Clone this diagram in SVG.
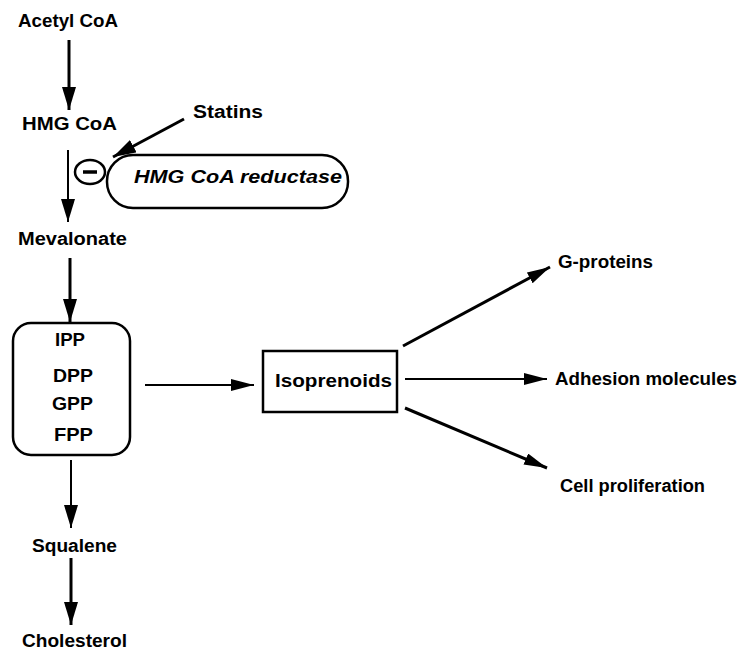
<svg xmlns="http://www.w3.org/2000/svg" width="739" height="653" viewBox="0 0 739 653">
<defs>
<style>
text{font-family:"Liberation Sans",Arial,sans-serif;font-weight:bold;font-size:18px;fill:#000}
.ln{stroke:#000;fill:none}
.thick{stroke-width:3}
.thin{stroke-width:2}
.box{fill:#fff;stroke:#000;stroke-width:2.5}
</style>
<marker id="ah" markerUnits="userSpaceOnUse" markerWidth="24" markerHeight="16" refX="23" refY="7" orient="auto">
<path d="M0,0 L23,7 L0,14 z" fill="#000"/>
</marker>
<marker id="ah2" markerUnits="userSpaceOnUse" markerWidth="24" markerHeight="14" refX="23" refY="6" orient="auto">
<path d="M0,0 L23,6 L0,12 z" fill="#000"/>
</marker>
</defs>
<g id="connectors">
<line class="ln thick" x1="69" y1="40" x2="69" y2="110" marker-end="url(#ah)"/>
<line class="ln thick" x1="184" y1="119" x2="113" y2="157" marker-end="url(#ah)"/>
<line class="ln thin" x1="68" y1="150" x2="68" y2="222" marker-end="url(#ah)"/>
<line class="ln thick" x1="70" y1="258" x2="70" y2="322" marker-end="url(#ah)"/>
<line class="ln thin" x1="145" y1="385" x2="254" y2="385" marker-end="url(#ah2)"/>
<line class="ln thick" x1="403" y1="346" x2="550" y2="267" marker-end="url(#ah2)"/>
<line class="ln thin" x1="405" y1="379" x2="547" y2="379" marker-end="url(#ah2)"/>
<line class="ln thick" x1="405" y1="408" x2="547" y2="468" marker-end="url(#ah2)"/>
<line class="ln thin" x1="71" y1="460" x2="71" y2="528" marker-end="url(#ah)"/>
<line class="ln thick" x1="71" y1="558" x2="71" y2="625" marker-end="url(#ah)"/>
</g>
<g id="acetyl-coa"><text x="18" y="27" textLength="100" lengthAdjust="spacingAndGlyphs">Acetyl CoA</text></g>
<g id="hmg-coa"><text x="22" y="130" textLength="95" lengthAdjust="spacingAndGlyphs">HMG CoA</text></g>
<g id="statins"><text x="193" y="118" textLength="70" lengthAdjust="spacingAndGlyphs">Statins</text></g>
<g id="hmg-coa-reductase">
<rect class="box" x="107" y="155" width="241" height="53" rx="26" ry="26"/>
<text x="134" y="183" font-style="italic" textLength="208" lengthAdjust="spacingAndGlyphs">HMG CoA reductase</text>
</g>
<g id="inhibition">
<ellipse class="box" cx="90" cy="172" rx="15" ry="12"/>
<line x1="83" y1="172" x2="97" y2="172" stroke="#000" stroke-width="3.5"/>
</g>
<g id="mevalonate"><text x="18" y="245" textLength="109" lengthAdjust="spacingAndGlyphs">Mevalonate</text></g>
<g id="intermediates">
<rect class="box" x="13" y="323" width="117" height="132" rx="18" ry="18"/>
<text x="55" y="346" textLength="30" lengthAdjust="spacingAndGlyphs">IPP</text>
<text x="53" y="382" textLength="40" lengthAdjust="spacingAndGlyphs">DPP</text>
<text x="52" y="410" textLength="41" lengthAdjust="spacingAndGlyphs">GPP</text>
<text x="54" y="441" textLength="39" lengthAdjust="spacingAndGlyphs">FPP</text>
</g>
<g id="isoprenoids">
<rect class="box" x="263" y="351" width="134" height="61"/>
<text x="275" y="387" textLength="117" lengthAdjust="spacingAndGlyphs">Isoprenoids</text>
</g>
<g id="g-proteins"><text x="558" y="268" textLength="95" lengthAdjust="spacingAndGlyphs">G-proteins</text></g>
<g id="adhesion-molecules"><text x="555" y="385" textLength="182" lengthAdjust="spacingAndGlyphs">Adhesion molecules</text></g>
<g id="cell-proliferation"><text x="560" y="492" textLength="145" lengthAdjust="spacingAndGlyphs">Cell proliferation</text></g>
<g id="squalene"><text x="32" y="552" textLength="85" lengthAdjust="spacingAndGlyphs">Squalene</text></g>
<g id="cholesterol"><text x="22" y="647" textLength="105" lengthAdjust="spacingAndGlyphs">Cholesterol</text></g>
</svg>
